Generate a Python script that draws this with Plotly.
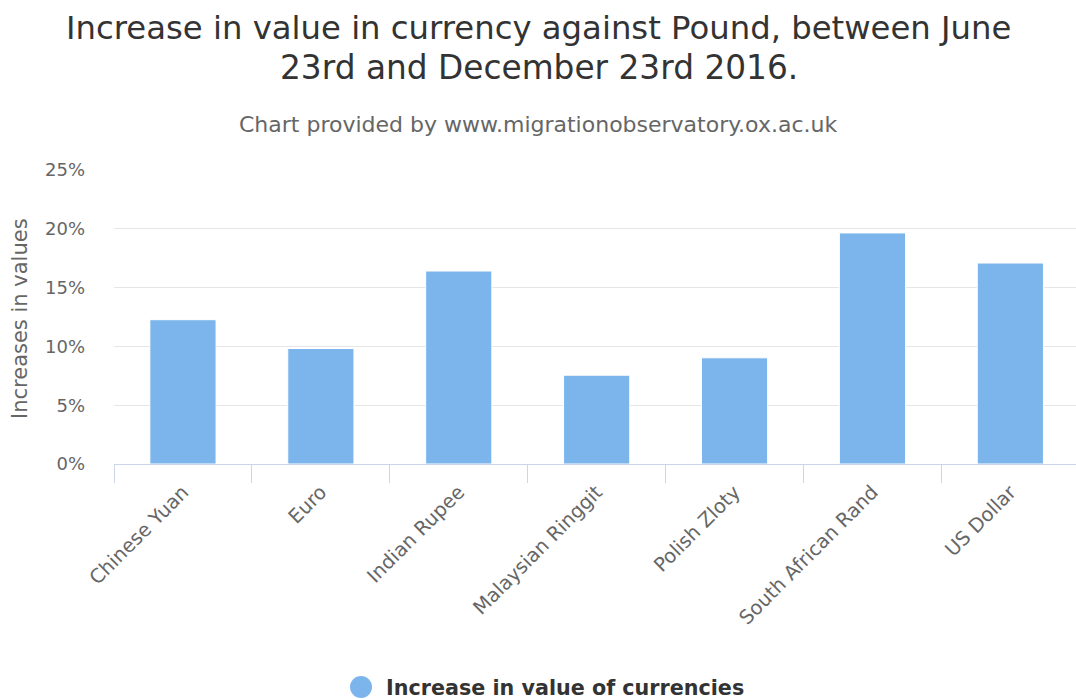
import plotly.graph_objects as go

categories = ["Chinese Yuan", "Euro", "Indian Rupee", "Malaysian Ringgit",
              "Polish Zloty", "South African Rand", "US Dollar"]
values = [12.27, 9.82, 16.41, 7.55, 9.03, 19.65, 17.09]
y_ticks = [0, 5, 10, 15, 20, 25]
y_tick_labels = ["0%", "5%", "10%", "15%", "20%", "25%"]
series_name = "Increase in value of currencies"

FONT = "DejaVu Sans"
BAR = "#7cb5ec"

fig = go.Figure()
fig.add_trace(go.Bar(
    x=categories, y=values, name=series_name,
    marker=dict(color=BAR, line=dict(color="#ffffff", width=1)),
    width=0.48, showlegend=False,
))

W, H = 1076, 699
L, T, B = 114, 170, 235
PW, PH = W - L, H - T - B


def px(x):
    return (x - L) / PW


def py(y):
    return (H - B - y) / PH


fig.update_layout(
    width=W, height=H,
    margin=dict(l=L, r=0, t=T, b=B, autoexpand=False),
    paper_bgcolor="#ffffff", plot_bgcolor="#ffffff",
    font=dict(family=FONT, color="#666666"),
    showlegend=False,
    xaxis=dict(
        type="category", range=[-0.5, 6.476], automargin=False,
        tickangle=-45, tickson="boundaries", ticks="outside", ticklen=18,
        tickcolor="#ccd6eb", tickwidth=1, ticklabelstandoff=8,
        showline=True, linecolor="#ccd6eb", linewidth=1,
        showgrid=False, zeroline=False,
        tickfont=dict(family=FONT, size=19.5, color="#666666"),
    ),
    yaxis=dict(
        range=[0, 25], tickvals=y_ticks, ticktext=y_tick_labels, automargin=False,
        showgrid=True, gridcolor="#e6e6e6", gridwidth=1,
        zeroline=False, showline=False, ticks="",
        ticklabelstandoff=28,
        tickfont=dict(family=FONT, size=18, color="#666666"),
    ),
    shapes=[
        dict(type="circle", xref="paper", yref="paper",
             xsizemode="pixel", ysizemode="pixel",
             xanchor=px(361), yanchor=py(687),
             x0=-11, x1=11, y0=-11, y1=11,
             fillcolor=BAR, line=dict(width=0)),
    ],
    annotations=[
        dict(text="Increase in value in currency against Pound, between June",
             xref="paper", yref="paper", x=px(538), y=py(28),
             xanchor="center", yanchor="middle", showarrow=False,
             font=dict(family=FONT, size=32.3, color="#333333")),
        dict(text="23rd and December 23rd 2016.",
             xref="paper", yref="paper", x=px(539), y=py(68),
             xanchor="center", yanchor="middle", showarrow=False,
             font=dict(family=FONT, size=32.8, color="#333333")),
        dict(text="Chart provided by www.migrationobservatory.ox.ac.uk",
             xref="paper", yref="paper", x=px(538), y=py(124),
             xanchor="center", yanchor="middle", showarrow=False,
             font=dict(family=FONT, size=22, color="#666666")),
        dict(text="Increases in values",
             xref="paper", yref="paper", x=px(20), y=py(319),
             xanchor="center", yanchor="middle", textangle=-90, showarrow=False,
             font=dict(family=FONT, size=21, color="#666666")),
        dict(text="<b>" + series_name + "</b>",
             xref="paper", yref="paper", x=px(384), y=py(688),
             xanchor="left", yanchor="middle", showarrow=False,
             font=dict(family=FONT, size=20.7, color="#333333")),
    ],
)

fig.write_html("out.html")
